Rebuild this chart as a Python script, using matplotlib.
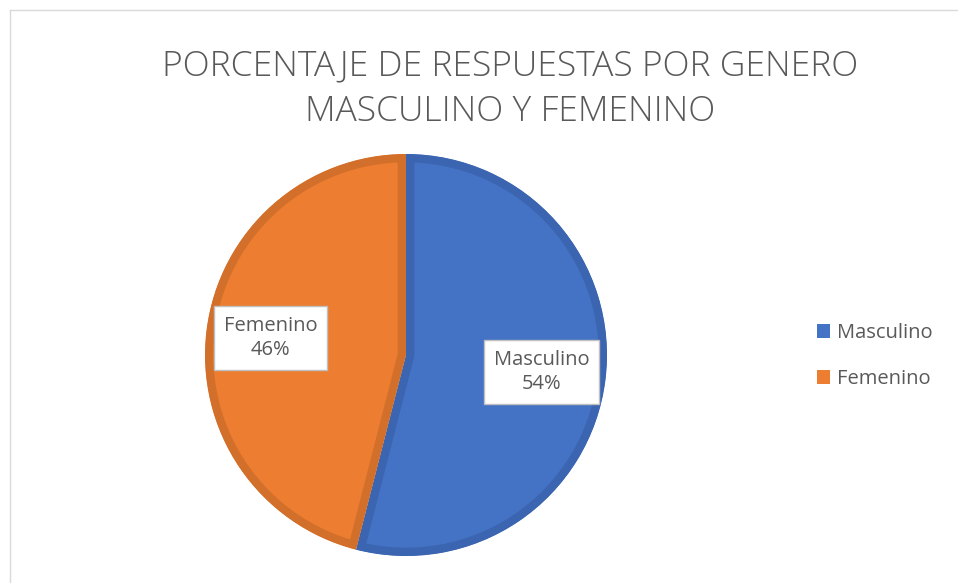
import numpy as np
import matplotlib.pyplot as plt
from matplotlib.lines import Line2D
from matplotlib.patches import Patch

# Data
categories = ['Masculino', 'Femenino']
percentages = [54, 46]
colors = ['#4472C4', '#ED7D31']
border_colors = ['#3B65B0', '#D2702B']
title = 'PORCENTAJE DE RESPUESTAS POR GENERO\nMASCULINO Y FEMENINO'

W, H = 958, 583
fig = plt.figure(figsize=(W / 100, H / 100), dpi=100)
fig.patch.set_facecolor('white')

# light chart-area frame (top and left edges visible)
fig.add_artist(Line2D([10 / W, 1], [1 - 10 / H, 1 - 10 / H], color='#D9D9D9', lw=1))
fig.add_artist(Line2D([10 / W, 10 / W], [0, 1 - 10 / H], color='#D9D9D9', lw=1))

# pie axes: center (406, 355) px, radius ~201 px
cx, cy, r = 406, 355, 201
ax = fig.add_axes([(cx - r) / W, (H - cy - r) / H, 2 * r / W, 2 * r / H])
wedges, _ = ax.pie(percentages, colors=colors, startangle=90, counterclock=False,
                   radius=1.0, wedgeprops=dict(linewidth=0))
ax.set_xlim(-1, 1)
ax.set_ylim(-1, 1)
ax.set_aspect('equal')
ax.axis('off')

# inner darker border on each slice (edge clipped to the slice itself)
for w, bc in zip(wedges, border_colors):
    w.set_edgecolor(bc)
    w.set_linewidth(12)
    w.set_clip_path(w)
    w.set_clip_on(True)

# data labels in callout boxes
for w, cat, p in zip(wedges, categories, percentages):
    mid = np.deg2rad((w.theta1 + w.theta2) / 2)
    x, y = 0.68 * np.cos(mid), 0.68 * np.sin(mid)
    ax.text(x, y, f'{cat}\n{p}%', ha='center', va='center', fontsize=14.5,
            color='#595959', family='Open Sans', linespacing=1.3, clip_on=False,
            bbox=dict(boxstyle='square,pad=0.5', facecolor='white',
                      edgecolor='#BFBFBF', linewidth=1))

# title
fig.text(510 / W, 1 - 89 / H, title, ha='center', va='center', fontsize=25.5,
         color='#595959', family='Open Sans', fontweight='light', linespacing=1.4)

# legend
handles = [Patch(facecolor=c, edgecolor='none') for c in colors]
fig.legend(handles, categories, loc='center left', bbox_to_anchor=(799 / W, 1 - 356 / H),
           frameon=False, labelcolor='#595959', handlelength=0.65,
           handleheight=0.65, handletextpad=0.35, labelspacing=1.3,
           prop={'family': 'Open Sans', 'size': 14.5})

fig.savefig('out.png', dpi=100)
